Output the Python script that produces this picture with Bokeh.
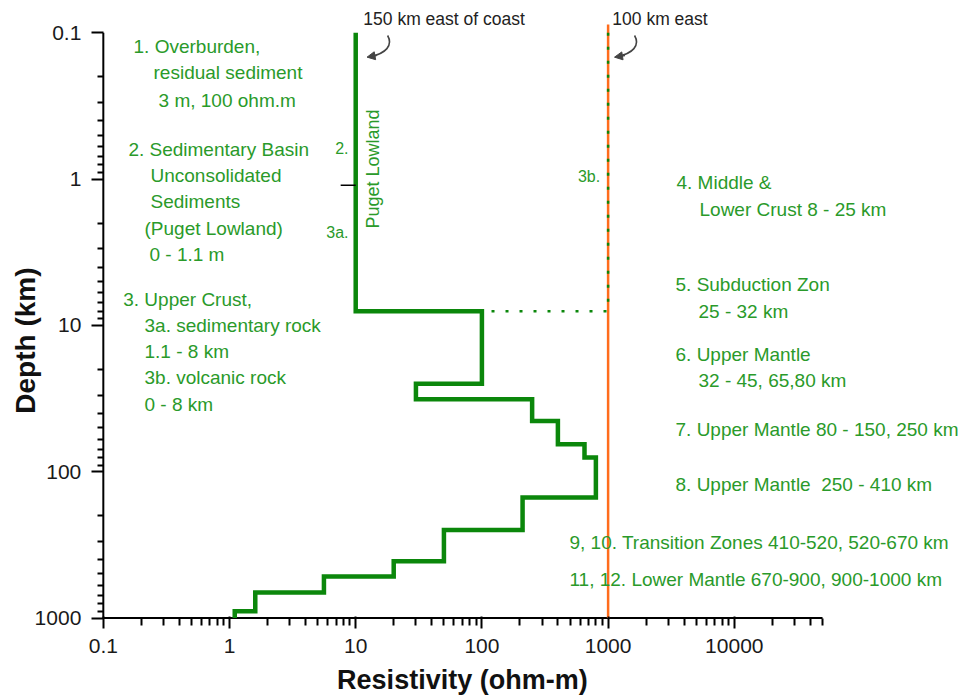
import math

from bokeh.embed import file_html
from bokeh.models import Arrow, CustomJSTickFormatter, FixedTicker, Label, NormalHead, Range1d
from bokeh.plotting import figure
from bokeh.resources import INLINE

# Layered resistivity model, 150 km east of coast (depths in km, resistivity in ohm-m)
layer_top = [0.1, 1.1, 8, 25, 32, 45, 65, 80, 150, 250, 410, 520, 670, 900]
layer_bottom = [1.1, 8, 25, 32, 45, 65, 80, 150, 250, 410, 520, 670, 900, 1000]
layer_rho = [10, 10, 100, 30, 250, 400, 650, 800, 210, 50, 20, 5.6, 1.6, 1.1]

# Profile 100 km east: volcanic rock (3b) down to 8 km, then joins the main model
east_depth = [0.1, 8, 8]
east_rho = [1000, 1000, 100]

# Reference resistivity line, drawn from just above the surface to the base
ref_rho = [1000, 1000]
ref_depth = [0.0878, 1000]

# Axis extents and ticks
rho_min, rho_max = 0.1, 50000
depth_min, depth_max = 0.1, 1000
x_major = [0.1, 1, 10, 100, 1000, 10000]
y_major = [0.1, 1, 10, 100, 1000]

GREEN_LINE = "#0b870b"
GREEN_TEXT = "#2a9a2a"
ORANGE = "#ff6c1c"
FONT = "Liberation Sans"

# The frame fills the canvas; the axes sit at fixed data locations inside it
p = figure(
    width=969, height=698,
    x_axis_type="log", y_axis_type="log",
    x_range=Range1d(0.01532, 730600), y_range=Range1d(3550, 0.0601),
    output_backend="svg", toolbar_location=None,
    min_border_left=0, min_border_right=0, min_border_top=0, min_border_bottom=0,
)
p.outline_line_color = None
p.grid.grid_line_color = None
p.background_fill_color = "white"
p.border_fill_color = "white"


def minor_ticks(majors, upper):
    out = []
    for m in majors:
        for k in range(2, 10):
            v = m * k
            if v <= upper * 1.0001:
                out.append(v)
    return out


p.xaxis.ticker = FixedTicker(ticks=x_major, minor_ticks=minor_ticks(x_major, rho_max))
p.yaxis.ticker = FixedTicker(ticks=y_major, minor_ticks=minor_ticks(y_major[:-1], depth_max))
fmt = CustomJSTickFormatter(code="return String(tick);")
p.xaxis.formatter = fmt
p.yaxis.formatter = fmt
p.xaxis.fixed_location = depth_max
p.yaxis.fixed_location = rho_min

for ax in (p.xaxis, p.yaxis):
    ax.axis_line_color = None
    ax.major_tick_line_color = "black"
    ax.major_tick_line_width = 2
    ax.minor_tick_line_color = "black"
    ax.minor_tick_line_width = 2
    ax.major_label_text_font = FONT
    ax.major_label_text_font_size = "21px"
    ax.major_label_text_color = "#1a1a1a"

p.xaxis.major_tick_out = 10
p.xaxis.major_tick_in = 2
p.xaxis.minor_tick_out = 7
p.xaxis.minor_tick_in = 0
p.xaxis.major_label_standoff = 11

p.yaxis.major_tick_out = 12
p.yaxis.major_tick_in = 0
p.yaxis.minor_tick_out = 6
p.yaxis.minor_tick_in = 0
p.yaxis.major_label_standoff = 10

# Axis lines spanning only the data extents
p.line([rho_min, rho_max], [depth_max, depth_max], line_color="black", line_width=2)
p.line([rho_min, rho_min], [depth_min, depth_max], line_color="black", line_width=2)

# Orange reference line
p.line(ref_rho, ref_depth, line_color=ORANGE, line_width=2.5)

# Dotted profile 100 km east
p.line(east_rho, east_depth, line_color=GREEN_LINE, line_width=2.5, line_dash="3 11")

# Stepped resistivity model
xs, ys = [], []
for top, bot, rho in zip(layer_top, layer_bottom, layer_rho):
    xs += [rho, rho]
    ys += [top, bot]
p.line(xs, ys, line_color=GREEN_LINE, line_width=4.5, line_join="miter")

# Short marker at the 1.1 km boundary of the sedimentary basin
p.segment(x0=[7.6], y0=[layer_bottom[0]], x1=[layer_rho[0]], y1=[layer_bottom[0]],
          line_color="black", line_width=1.5)

# Curved pointers from the profile captions to the lines
p.bezier(x0=[17.9, 1620], y0=[0.1043, 0.1043], x1=[13.2, 1190], y1=[0.1448, 0.1448],
         cx0=[19.9, 1806], cy0=[0.122, 0.122], cx1=[17.2, 1560], cy1=[0.1385, 0.1385],
         line_color="#444444", line_width=1.6)
for xs_, xe in ((14.6, 12.3), (1361, 1124)):
    p.add_layout(Arrow(end=NormalHead(size=8, fill_color="#444444", line_color="#444444"),
                       x_start=xs_, y_start=0.1427, x_end=xe, y_end=0.1466,
                       line_color="#444444", line_width=1.6))


def label(text, x, y, size="19px", color=GREEN_TEXT, align="left", angle=0.0,
          style="normal", baseline="middle"):
    p.add_layout(Label(x=x, y=y, text=text, text_font=FONT, text_font_size=size,
                       text_color=color, text_align=align, text_baseline=baseline,
                       angle=angle, text_font_style=style))


# Left column of layer notes
label("1. Overburden,", 0.1735, 0.124)
label("residual sediment", 0.250, 0.187)
label("3 m, 100 ohm.m", 0.274, 0.290)
label("2. Sedimentary Basin", 0.158, 0.628)
label("Unconsolidated", 0.2366, 0.945)
label("Sediments", 0.2366, 1.42)
label("(Puget Lowland)", 0.212, 2.18)
label("0 - 1.1 m", 0.232, 3.28)
label("3. Upper Crust,", 0.1438, 6.65)
label("3a. sedimentary rock", 0.212, 10.0)
label("1.1 - 8 km", 0.212, 15.1)
label("3b. volcanic rock", 0.212, 22.7)
label("0 - 8 km", 0.212, 34.7)

# Right column of layer notes
label("4. Middle &", 3480, 1.055)
label("Lower Crust 8 - 25 km", 5300, 1.61)
label("5. Subduction Zon", 3420, 5.25)
label("25 - 32 km", 5200, 8.04)
label("6. Upper Mantle", 3420, 15.8)
label("32 - 45, 65,80 km", 5200, 23.8)
label("7. Upper Mantle 80 - 150, 250 km", 3420, 51.5)
label("8. Upper Mantle\u00a0 250 - 410 km", 3420, 122)
label("9, 10. Transition Zones 410-520, 520-670 km", 494, 305)
label("11, 12. Lower Mantle 670-900, 900-1000 km", 494, 546)

# Small markers along the lines
label("2.", 8.77, 0.608, size="16px", align="right")
label("3a.", 8.77, 2.32, size="16px", align="right")
label("3b.", 865, 0.96, size="16px", align="right")
label("Puget Lowland", 13.8, 0.853, size="18px", align="center", angle=math.pi / 2)

# Profile captions above the plot
label("150 km east of coast", 11.5, 0.0798, size="17.5px", color="#222222")
label("100 km east", 1080, 0.0798, size="17.5px", color="#222222")

# Axis titles
label("Depth (km)", 0.0242, 12.7, size="28px", color="#111111", align="center",
      angle=math.pi / 2, style="bold")
label("Resistivity (ohm-m)", 70, 2673, size="27px", color="#111111", align="center",
      style="bold")

open("out.html", "w").write(file_html(p, INLINE))
